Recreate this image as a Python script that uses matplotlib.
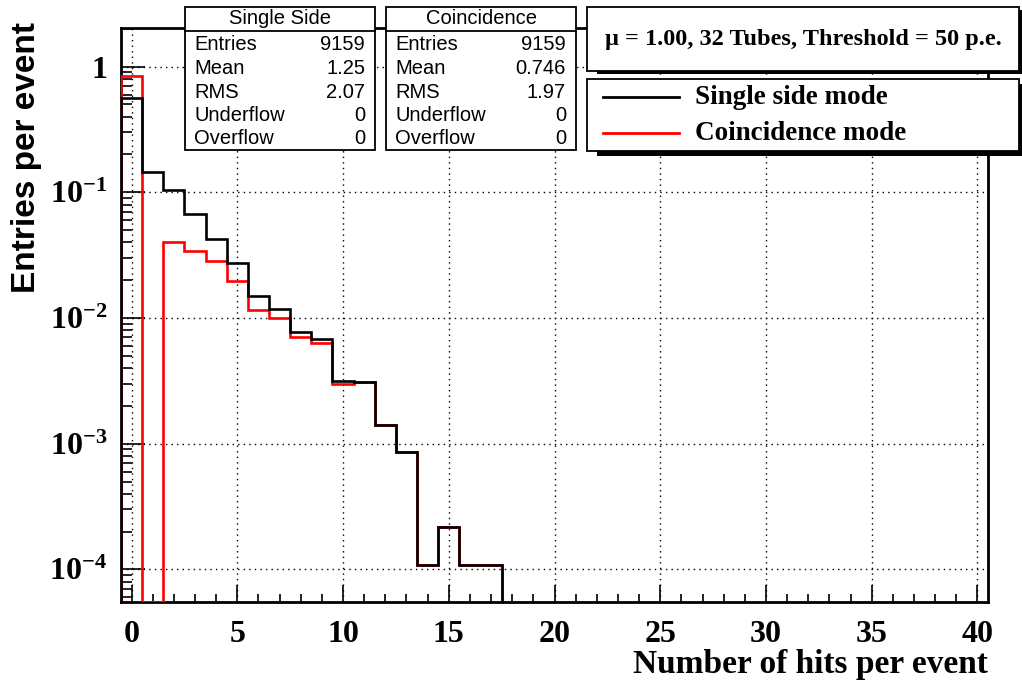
import numpy as np
import matplotlib
matplotlib.use('Agg')
import matplotlib.pyplot as plt
from matplotlib.patches import Rectangle
from matplotlib.lines import Line2D
from matplotlib.ticker import FixedLocator, FixedFormatter, MultipleLocator, LogLocator, NullFormatter

# histogram contents (fraction of events per bin, bins centred on 0..17)
single_side = [0.566, 0.146, 0.104, 0.0668, 0.0422, 0.0272, 0.0149, 0.0117, 0.00768,
               0.00683, 0.00315, 0.00307, 0.00140, 0.000861, 0.000108, 0.000216,
               0.000108, 0.000108]
coincidence = [0.848, 0.0, 0.0400, 0.0343, 0.0284, 0.0198, 0.01156, 0.01004, 0.00708,
               0.00628, 0.00301, 0.00307, 0.00140, 0.000861, 0.000108, 0.000216,
               0.000108, 0.000108]

# stat boxes
stat_names = ['Entries', 'Mean', 'RMS', 'Underflow', 'Overflow']
single_stats = ['9159', '1.25', '2.07', '0', '0']
coinc_stats = ['9159', '0.746', '1.97', '0', '0']

y_ticks = [1e-4, 1e-3, 1e-2, 1e-1, 1]
y_ticklabels = [r'$10^{-4}$', r'$10^{-3}$', r'$10^{-2}$', r'$10^{-1}$', '1']
x_ticks = [0, 5, 10, 15, 20, 25, 30, 35, 40]

W, H = 1022, 684
plt.rcParams['mathtext.fontset'] = 'custom'
plt.rcParams['mathtext.rm'] = 'Liberation Serif:bold'
plt.rcParams['mathtext.it'] = 'Liberation Serif:bold'
plt.rcParams['mathtext.bf'] = 'Liberation Serif:bold'

serif = 'Liberation Serif'
sans = 'Liberation Sans'

fig = plt.figure(figsize=(W / 100, H / 100), dpi=100)
ax = fig.add_axes([121 / W, 1 - 602 / H, (988 - 121) / W, (602 - 28) / H])

ymin, ymax = 5.5e-5, 2.03
edges = np.arange(-0.5, len(single_side), 1.0)

def floor(v):
    v = np.asarray(v)
    return np.where(v > 0, v, ymin)

ax.stairs(floor(coincidence), edges, baseline=ymin, color='#ff0000', lw=1.9, zorder=3)
ax.stairs(floor(single_side), edges, baseline=ymin, color='black', lw=1.9, zorder=4)

ax.set_yscale('log')
ax.set_xlim(-0.5, 40.5)
ax.set_ylim(ymin, ymax)

ax.xaxis.set_major_locator(FixedLocator(x_ticks))
ax.xaxis.set_minor_locator(MultipleLocator(1))
ax.yaxis.set_major_locator(FixedLocator(y_ticks))
ax.yaxis.set_major_formatter(FixedFormatter(y_ticklabels))
ax.yaxis.set_minor_locator(LogLocator(base=10, subs=np.arange(2, 10)))
ax.yaxis.set_minor_formatter(NullFormatter())

ax.tick_params(axis='both', which='both', direction='in', top=False, right=False, width=1.2)
ax.tick_params(axis='x', which='major', length=12, pad=13)
ax.tick_params(axis='x', which='minor', length=6)
ax.tick_params(axis='y', which='major', length=17, pad=10)
ax.tick_params(axis='y', which='minor', length=8)
for lab in ax.get_xticklabels() + ax.get_yticklabels():
    lab.set_fontfamily(serif)
    lab.set_fontweight('bold')
    lab.set_fontsize(23)

ax.grid(True, which='major', color='black', linestyle=(0, (1, 3)), linewidth=1.0)
for s in ax.spines.values():
    s.set_linewidth(2.0)

ax.set_xlabel('Number of hits per event', fontfamily=serif, fontweight='bold', fontsize=24)
ax.xaxis.set_label_coords(1.0, (602 - 664) / 574)
ax.xaxis.label.set_horizontalalignment('right')
ax.xaxis.label.set_verticalalignment('center')
fig.text(27 / W, 1 - 22 / H, 'Entries per event', rotation=90, ha='center', va='top',
         fontfamily=sans, fontweight='bold', fontsize=24)

def rect(x0, y0, x1, y1, **kw):
    fig.patches.append(Rectangle((x0 / W, 1 - y1 / H), (x1 - x0) / W, (y1 - y0) / H,
                                 transform=fig.transFigure, figure=fig, **kw))

def stat_box(x0, x1, title, values):
    rect(x0, 7, x1, 150, facecolor='white', edgecolor='black', lw=1.3, zorder=5)
    fig.lines.append(Line2D([x0 / W, x1 / W], [1 - 31 / H, 1 - 31 / H], color='black',
                            lw=1.3, transform=fig.transFigure, zorder=6))
    fig.text((x0 + x1) / 2 / W, 1 - 19 / H, title, ha='center', va='center',
             fontfamily=sans, fontsize=14.5, zorder=7)
    for i, (name, val) in enumerate(zip(stat_names, values)):
        yy = 1 - (45 + 23.5 * i) / H
        fig.text((x0 + 9) / W, yy, name, ha='left', va='center', fontfamily=sans,
                 fontsize=14.5, zorder=7)
        fig.text((x1 - 10) / W, yy, val, ha='right', va='center', fontfamily=sans,
                 fontsize=14.5, zorder=7)

stat_box(185, 375, 'Single Side', single_stats)
stat_box(386, 576, 'Coincidence', coinc_stats)

# header box with shadow
rect(597, 10, 1024, 73.5, facecolor='black', edgecolor='none', zorder=5)
rect(587, 7, 1019, 71, facecolor='white', edgecolor='black', lw=1.3, zorder=6)
fig.text(803 / W, 1 - 40 / H, '\u03bc = 1.00, 32 Tubes, Threshold = 50 p.e.', ha='center',
         va='center', fontfamily=serif, fontweight='bold', fontsize=17.5, zorder=7)

# legend box with shadow
rect(597, 84, 1024, 156, facecolor='black', edgecolor='none', zorder=5)
rect(587, 79, 1019, 151, facecolor='white', edgecolor='black', lw=1.3, zorder=6)
for yy, col, lab in [(97, 'black', 'Single side mode'), (133, '#ff0000', 'Coincidence mode')]:
    fig.lines.append(Line2D([603 / W, 679 / W], [1 - yy / H, 1 - yy / H], color=col, lw=2,
                            transform=fig.transFigure, zorder=7))
    fig.text(695 / W, 1 - yy / H, lab, ha='left', va='center', fontfamily=serif,
             fontweight='bold', fontsize=19.5, zorder=7)

fig.savefig('out.png', dpi=100)
